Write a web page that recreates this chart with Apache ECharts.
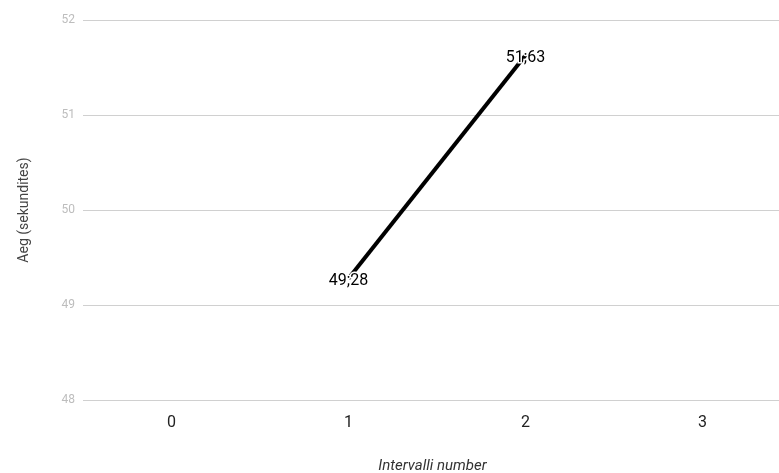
<!DOCTYPE html>
<html>
<head>
<meta charset="utf-8">
<script src="https://cdn.jsdelivr.net/npm/echarts@6/dist/echarts.min.js"></script>
<style>html,body{margin:0;padding:0;background:#fff;overflow:hidden}#c{width:791px;height:473px}</style>
</head>
<body>
<div id="c"></div>
<script>
var categories = ['0', '1', '2', '3'];
var values = [null, 49.28, 51.63, null];
var yTicks = [48, 49, 50, 51, 52];

var chart = echarts.init(document.getElementById('c'), null, {renderer: 'canvas'});
chart.setOption({
  animation: false,
  backgroundColor: '#ffffff',
  textStyle: {fontFamily: 'Roboto'},
  grid: {left: 83, right: 0, top: 20, bottom: 73, containLabel: false, outerBoundsMode: 'none'},
  xAxis: {
    type: 'category',
    data: categories,
    boundaryGap: true,
    name: 'Intervalli number',
    nameLocation: 'middle',
    nameGap: 59,
    nameTextStyle: {fontStyle: 'italic', fontSize: 15, color: '#333', fontFamily: 'Roboto', padding: [0, 9, 0, 0]},
    axisLine: {show: false},
    axisTick: {show: false},
    axisLabel: {fontSize: 16, color: '#222', margin: 15, fontFamily: 'Roboto'},
    splitLine: {show: false}
  },
  yAxis: {
    type: 'value',
    min: yTicks[0],
    max: yTicks[yTicks.length - 1],
    interval: 1,
    name: 'Aeg (sekundites)',
    nameLocation: 'middle',
    nameGap: 52,
    nameTextStyle: {fontSize: 14, color: '#444', fontFamily: 'Roboto'},
    axisLine: {show: false},
    axisTick: {show: false},
    axisLabel: {fontSize: 12, color: '#bdbdbd', margin: 8, fontFamily: 'Roboto'},
    splitLine: {lineStyle: {color: '#d0d0d0', width: 1}}
  },
  series: [{
    type: 'line',
    data: values,
    connectNulls: false,
    symbol: 'circle',
    symbolSize: 2,
    showSymbol: true,
    itemStyle: {color: 'rgba(0,0,0,0)', borderWidth: 0},
    lineStyle: {color: '#000', width: 4},
    label: {
      show: true,
      position: 'inside',
      offset: [0, 3],
      fontSize: 16,
      color: '#000',
      fontFamily: 'Roboto',
      textBorderColor: '#fff',
      textBorderWidth: 3,
      formatter: function (p) { return String(p.value).replace('.', ';'); }
    }
  }]
});
</script>
</body>
</html>
